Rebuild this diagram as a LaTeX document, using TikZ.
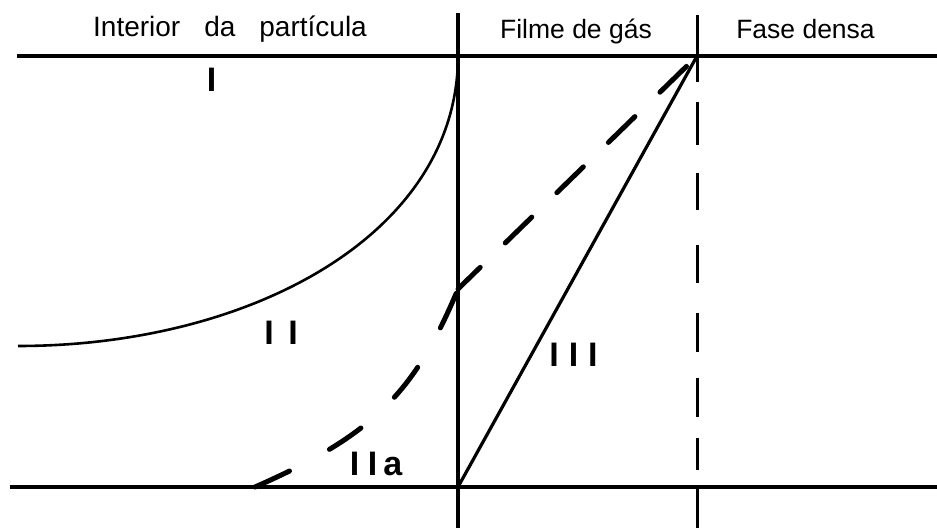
\documentclass[tikz,border=0pt]{standalone}
\usepackage{fontspec}
\setmainfont{Liberation Sans}
\begin{document}
\begin{tikzpicture}[x=0.5pt,y=-0.5pt,
  frame/.style={line width=2.2pt},
  wall/.style={line width=1.75pt},
  border/.style={line width=1.5pt},
  profile/.style={line width=1.3pt},
  linear/.style={line width=1.6pt},
  dashprofile/.style={line width=2.5pt, line cap=round},
  head/.style={inner sep=0pt, anchor=base, font=\fontsize{13.25pt}{15pt}\selectfont},
  region/.style={inner sep=0pt, anchor=base, font=\fontsize{17pt}{19pt}\selectfont\bfseries}]

\useasboundingbox (0,0) rectangle (937,528);

% key points
\coordinate (topL) at (17,56);
\coordinate (topR) at (937,56);
\coordinate (botL) at (10,487);
\coordinate (botR) at (937,487);
\coordinate (wallT) at (458,13);
\coordinate (wallB) at (458,528);
\coordinate (surf) at (458,289);
\coordinate (origin) at (458,487);
\coordinate (bulk) at (697,56);
\coordinate (dashEnd) at (692,61);
\coordinate (curveIstart) at (18,346);
\coordinate (curveItop) at (458,57);
\coordinate (curveIIastart) at (255,487);

% frame lines
\draw[frame] (topL) -- (topR);
\draw[frame] (botL) -- (botR);
\draw[wall] (wallT) -- (wallB);
\foreach \a/\b in {15/82,102/145,173/210,245/283,313/352,378/417,438/470,487/528}
  \draw[border] (697,\a) -- (697,\b);

% profiles
\draw[profile] (curveIstart) .. controls (250,346) and (457,235) .. (curveItop);
\draw[linear] (origin) -- (bulk);
\draw[dashprofile, dash pattern=on 19pt off 22.75pt] (curveIIastart) .. controls (372,435.5) and (414.5,393.7) .. (surf);
\draw[dashprofile, dash pattern=on 18.5pt off 17.5pt, dash phase=3pt] (surf) -- (dashEnd);

% headers
\node[head, font=\fontsize{14pt}{16pt}\selectfont] (hdrInt) at (230,37) {Interior\hspace{12pt}da\hspace{12pt}partícula};
\node[head] (hdrFilm) at (576,39) {Filme de gás};
\node[head] (hdrBulk) at (805.5,39) {Fase densa};

% region labels
\node[region] (rI) at (211.5,92) {I};
\node[region] (rII) at (281,345) {I\hspace{7.3pt}I};
\node[region] (rIII) at (573.5,367) {I\hspace{5pt}I\hspace{5pt}I};
\node[region] (rIIa) at (376,476) {I\hspace{4.3pt}I\hspace{3pt}a};
\end{tikzpicture}
\end{document}
